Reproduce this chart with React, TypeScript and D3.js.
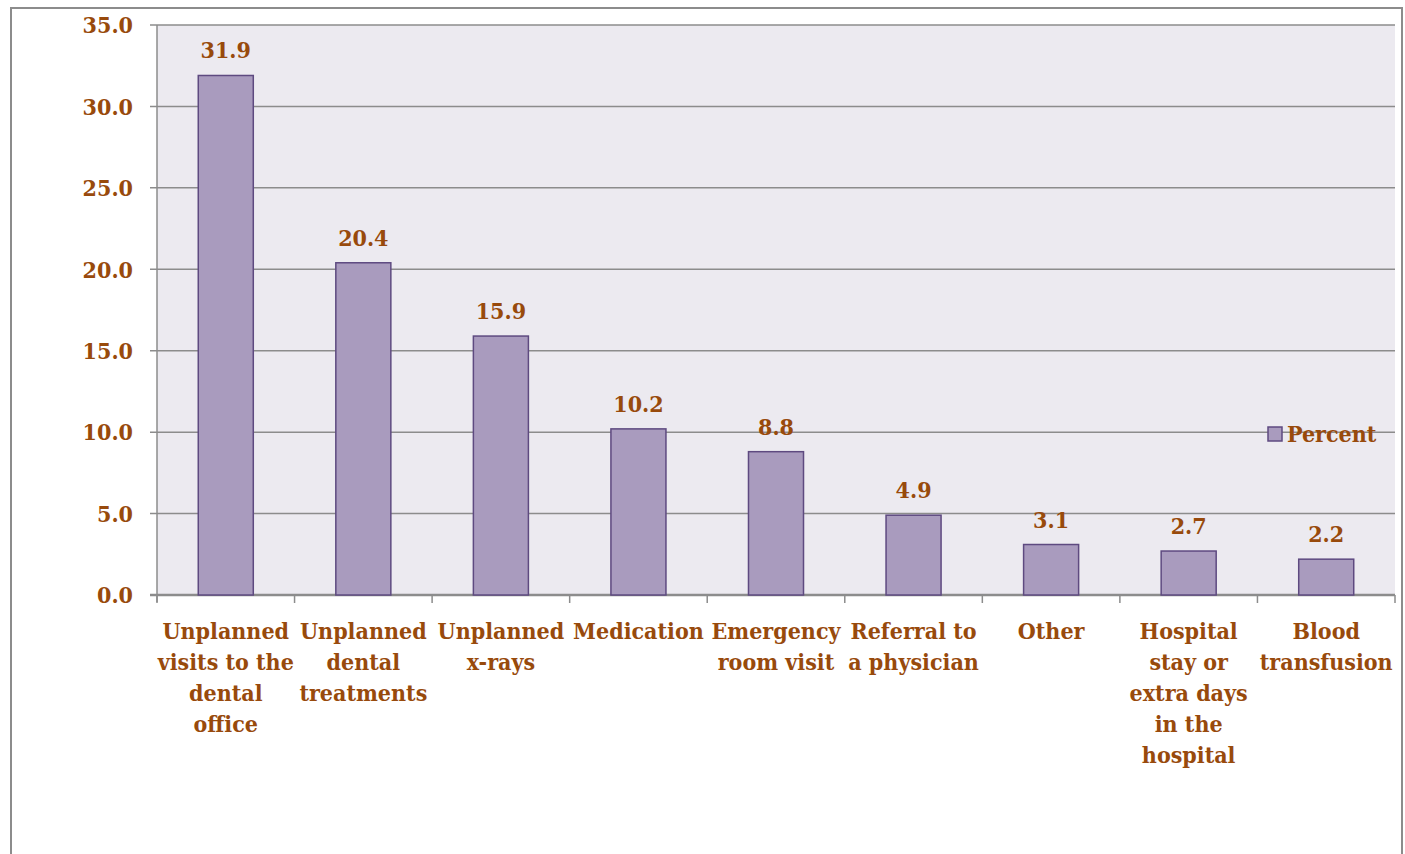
import React from "react";
import * as d3 from "d3";

const categories: string[][] = [
  ["Unplanned", "visits to the", "dental", "office"],
  ["Unplanned", "dental", "treatments"],
  ["Unplanned", "x-rays"],
  ["Medication"],
  ["Emergency", "room visit"],
  ["Referral to", "a physician"],
  ["Other"],
  ["Hospital", "stay or", "extra days", "in the", "hospital"],
  ["Blood", "transfusion"],
];
const percentValues: number[] = [31.9, 20.4, 15.9, 10.2, 8.8, 4.9, 3.1, 2.7, 2.2];
const yTicks: number[] = [0, 5, 10, 15, 20, 25, 30, 35];
const seriesName = "Percent";

const W = 1405;
const H = 854;
const plot = { left: 157, right: 1395, top: 25, bottom: 595 };
const FONT = "'DejaVu Serif Condensed', 'DejaVu Serif', serif";
const TEXT = "#984A0C";
const BAR_FILL = "#A99BBE";
const BAR_STROKE = "#5E4A80";
const GRID = "#8C8C8C";
const FS = 23;

export default function App() {
  const x = d3
    .scaleBand<number>()
    .domain(d3.range(categories.length))
    .range([plot.left, plot.right])
    .paddingInner(0)
    .paddingOuter(0);
  const y = d3.scaleLinear().domain([0, 35]).range([plot.bottom, plot.top]);
  const bw = x.bandwidth() * 0.4;
  const boundaries = d3.range(categories.length + 1).map((i) => plot.left + i * x.bandwidth());

  return (
    <div style={{ position: "absolute", left: 0, top: 0 }}>
      <svg width={W} height={H} style={{ display: "block" }} fontFamily={FONT} fontWeight="bold">
        <rect x={0} y={0} width={W} height={H} fill="#fff" />
        <rect x={11} y={8} width={1391} height={900} fill="#fff" stroke={GRID} strokeWidth={2} />
        <rect
          x={plot.left}
          y={plot.top}
          width={plot.right - plot.left}
          height={plot.bottom - plot.top}
          fill="#ECEAF0"
        />
        {yTicks.map((t) => (
          <g key={t}>
            <line x1={plot.left - 7} x2={plot.right} y1={y(t)} y2={y(t)} stroke={GRID} strokeWidth={t === 0 ? 2.5 : 1.5} />
            <text x={133} y={y(t)} dy="0.36em" textAnchor="end" fontSize={FS} fill={TEXT}>
              {t.toFixed(1)}
            </text>
          </g>
        ))}
        <line x1={plot.left} x2={plot.left} y1={plot.top} y2={plot.bottom + 7} stroke={GRID} strokeWidth={1.5} />
        {boundaries.map((bx, i) => (
          <line key={i} x1={bx} x2={bx} y1={plot.bottom} y2={plot.bottom + 8} stroke={GRID} strokeWidth={1.5} />
        ))}
        {percentValues.map((v, i) => {
          const cx = (x(i) as number) + x.bandwidth() / 2;
          return (
            <g key={i}>
              <rect
                x={cx - bw / 2}
                y={y(v)}
                width={bw}
                height={y(0) - y(v)}
                fill={BAR_FILL}
                stroke={BAR_STROKE}
                strokeWidth={1.5}
              />
              <text x={cx} y={y(v) - 17} textAnchor="middle" fontSize={FS} fill={TEXT}>
                {v.toFixed(1)}
              </text>
              <text x={cx} y={639} textAnchor="middle" fontSize={FS} fill={TEXT}>
                {categories[i].map((line, j) => (
                  <tspan key={j} x={cx} dy={j === 0 ? 0 : 31}>
                    {line}
                  </tspan>
                ))}
              </text>
            </g>
          );
        })}
        <rect x={1268} y={427} width={14} height={14} fill={BAR_FILL} stroke={BAR_STROKE} strokeWidth={1.5} />
        <text x={1287} y={442} fontSize={FS} fill={TEXT}>
          {seriesName}
        </text>
      </svg>
    </div>
  );
}
